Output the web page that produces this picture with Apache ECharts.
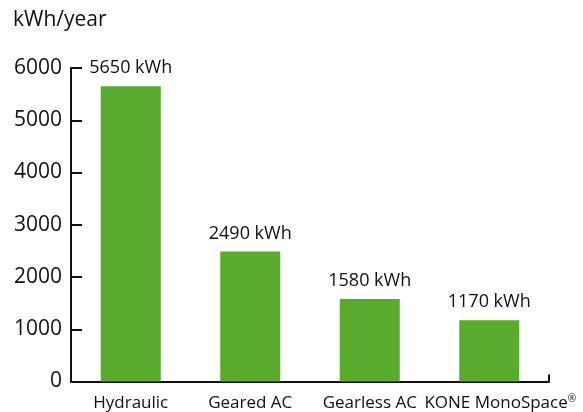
<!DOCTYPE html>
<html><head><meta charset="utf-8">
<script src="https://cdn.jsdelivr.net/npm/echarts@6/dist/echarts.min.js"></script>
<style>html,body{margin:0;padding:0;background:#fff}#c{width:583px;height:412px}</style>
</head><body><div id="c"></div>
<script>
const categories = ['Hydraulic', 'Geared AC', 'Gearless AC', 'KONE MonoSpace{sup|®}'];
const values = [5650, 2490, 1580, 1170];
const valueLabels = ['5650 kWh', '2490 kWh', '1580 kWh', '1170 kWh'];
const yTicks = [0, 1000, 2000, 3000, 4000, 5000, 6000];
const unitTitle = 'kWh/year';

const FONT = '"Open Sans", sans-serif';
const INK = '#111';
const chart = echarts.init(document.getElementById('c'), null, {renderer: 'canvas'});
chart.setOption({
  animation: false,
  title: {text: unitTitle, left: 8, top: 5,
    textStyle: {fontFamily: FONT, fontSize: 21, fontWeight: 'normal', color: INK}},
  grid: {left: 71, right: 34, top: 68, bottom: 28, containLabel: false},
  xAxis: {
    type: 'category',
    data: categories.map((c, i) => i === 3 ? {value: c, textStyle: {padding: [0, 0, 0, 22]}} : c),
    axisLine: {lineStyle: {color: INK, width: 2}},
    axisTick: {show: false},
    axisLabel: {fontFamily: FONT, fontSize: 17, color: INK, margin: 13, interval: 0,
      rich: {sup: {fontFamily: FONT, fontSize: 10, color: INK, verticalAlign: 'top', padding: [0, 0, 8, 0]}}}
  },
  yAxis: {
    type: 'value', min: yTicks[0], max: yTicks[yTicks.length - 1], interval: 1000,
    axisLine: {show: true, lineStyle: {color: INK, width: 2}},
    axisTick: {show: true, inside: true, length: 11, lineStyle: {color: INK, width: 2}},
    splitLine: {show: false},
    axisLabel: {fontFamily: FONT, fontSize: 21, color: INK, margin: 9, formatter: v => String(v)}
  },
  series: [{
    type: 'bar', barWidth: 60,
    data: values,
    itemStyle: {color: '#58ab2b'},
    label: {show: true, position: 'top', distance: 9, fontFamily: FONT, fontSize: 18, color: INK,
      formatter: p => valueLabels[p.dataIndex]}
  }]
});
const gridRect = chart.getModel().getComponent('grid').coordinateSystem.getRect();
const xEnd = gridRect.x + gridRect.width;
const yBase = gridRect.y + gridRect.height;
chart.setOption({graphic: [{type: 'line', shape: {x1: xEnd, y1: yBase, x2: xEnd, y2: yBase - 7},
  style: {stroke: INK, lineWidth: 2}}]});
</script></body></html>
